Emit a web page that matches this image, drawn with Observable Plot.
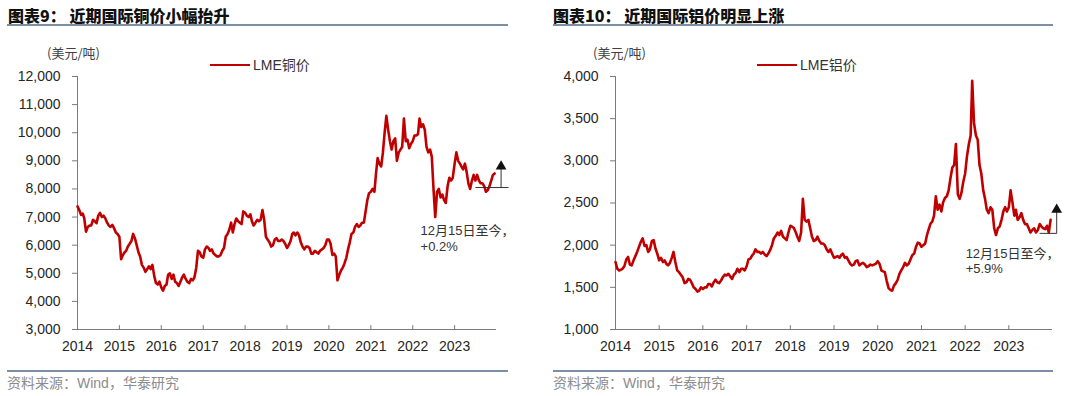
<!DOCTYPE html>
<html><head><meta charset="utf-8">
<script src="https://cdn.jsdelivr.net/npm/d3@7"></script>
<script src="https://cdn.jsdelivr.net/npm/@observablehq/plot@0.6"></script>
<style>
body{margin:0;background:#fff;}
#root{position:relative;width:1080px;height:396px;overflow:hidden;font-family:"Liberation Sans",Arial,sans-serif;}
.abs{position:absolute;white-space:nowrap;line-height:1;}
.title{font-family:"Noto Sans CJK SC";font-weight:900;font-size:16px;color:#111;}
.hr{position:absolute;height:2px;background:#7b8ea3;}
.unit{font-family:"Noto Sans CJK SC";font-size:13px;color:#404040;}
.leg{font-family:"Liberation Sans","Noto Sans CJK SC";font-size:14px;color:#333;display:flex;align-items:center;}
.leg i{display:inline-block;width:40px;height:2px;background:#c00000;margin-right:3px;}
.src{font-family:"Liberation Sans","Noto Sans CJK SC";font-size:14px;color:#8c8c8c;}
.panel{position:absolute;top:0;width:540px;height:360px;}
</style></head>
<body><div id="root"></div>
<script>
// ---------- data ----------
const titles = ["图表9： 近期国际铜价小幅抬升", "图表10： 近期国际铝价明显上涨"];
const unitLabel = "(美元/吨)";
const legendLabels = ["LME铜价", "LME铝价"];
const sourceText = "资料来源：Wind，华泰研究";
const noteLines1 = ["12月15日至今，", "+0.2%"];
const noteLines2 = ["12月15日至今，", "+5.9%"];
const yearTicks = [2014, 2015, 2016, 2017, 2018, 2019, 2020, 2021, 2022, 2023];
const copperTicks = [3000, 4000, 5000, 6000, 7000, 8000, 9000, 10000, 11000, 12000];
const aluminumTicks = [1000, 1500, 2000, 2500, 3000, 3500, 4000];
// semi-monthly observations (1st and 16th of each month), Jan 2014 – Dec 2023, USD/t
const copperPrices = [
 7380,7250,7080,7120,6950,6480,6650,6700,6700,6900,6850,6780,7050,7150,7000,7050,6950,6800,6700,6650,6720,6600,6450,6400,
 6300,5500,5650,5750,5800,5950,6050,6150,6400,6250,6000,5750,5600,5300,5200,5050,5150,5250,5150,5300,4900,4650,4600,4700,
 4500,4380,4550,4600,4950,5000,4800,4950,4700,4650,4550,4700,4850,4950,4800,4700,4650,4800,4750,4850,5200,5800,5750,5600,
 5550,5850,5950,5900,5800,5850,5700,5650,5600,5600,5650,5800,5900,6300,6400,6550,6800,6450,6750,6950,6850,6800,6750,7200,
 7150,7050,7000,7100,6850,6700,6800,6900,6850,6900,7250,6900,6300,6200,6100,5950,6000,6200,6250,6150,6150,6200,6150,6050,
 5900,6000,6150,6400,6450,6350,6450,6350,6100,5950,5850,5950,5950,5900,5700,5700,5800,5750,5700,5800,5850,5900,6000,6200,
 6200,6050,5650,5700,5600,4750,4950,5100,5200,5350,5550,5850,6100,6400,6450,6650,6750,6650,6700,6800,6800,7200,7600,7850,
 7900,8000,7900,8600,9100,8900,8800,9300,10000,10600,10100,9700,9400,9700,9800,9000,9300,9400,9500,10500,9700,9750,9450,9600,
 9700,9900,9900,9950,10500,10200,10300,10100,9500,9300,9400,9150,8000,7000,7900,8000,7700,7800,7600,7500,8100,8400,8300,8400,
 8900,9300,9000,8900,8800,8700,8900,8600,8200,8000,8300,8500,8300,8500,8300,8200,8200,8100,7900,7950,8100,8300,8500,8550
];
const aluminumPrices = [
 1800,1720,1700,1710,1720,1750,1830,1860,1770,1760,1820,1870,1920,1980,2040,2080,1990,2000,1920,1950,2050,2060,1960,1900,
 1820,1850,1800,1820,1780,1760,1790,1850,1920,1800,1700,1680,1650,1620,1550,1560,1600,1590,1550,1500,1480,1450,1460,1500,
 1480,1500,1500,1540,1540,1510,1560,1590,1560,1550,1580,1620,1650,1640,1660,1630,1600,1650,1670,1720,1680,1720,1720,1700,
 1750,1830,1840,1880,1900,1950,1920,1920,1900,1920,1890,1870,1900,1940,2000,2080,2110,2150,2120,2170,2100,2080,2060,2150,
 2230,2220,2200,2150,2100,2050,2150,2550,2300,2280,2300,2200,2100,2050,2060,2100,2050,2020,2020,2000,1950,1920,1950,1900,
 1850,1860,1870,1850,1880,1900,1850,1860,1820,1780,1760,1770,1810,1820,1760,1780,1790,1770,1740,1750,1770,1760,1770,1780,
 1810,1780,1700,1690,1680,1580,1490,1470,1460,1520,1550,1590,1660,1700,1740,1790,1760,1780,1830,1880,1900,1980,2030,2020,
 1980,2000,2020,2120,2180,2250,2280,2350,2580,2420,2480,2400,2510,2560,2580,2650,2800,2920,2950,3200,2600,2550,2620,2750,
 2850,3050,3200,3300,3950,3450,3300,3250,2950,2850,2650,2550,2420,2380,2450,2420,2200,2120,2200,2220,2300,2400,2450,2400,
 2450,2650,2500,2350,2420,2300,2330,2380,2300,2250,2250,2200,2150,2180,2200,2150,2180,2250,2220,2200,2190,2230,2150,2300
];
// annotation: base level, arrow top, positions (dates)
const copperNote = {base: 8050, top: 8800, baseFrom: "2023-07-01", baseTo: "2024-04-15", arrowAt: "2024-02-10", textAt: "2022-03-10", textY: [6500, 5930]};
const aluminumNote = {base: 2140, top: 2420, baseFrom: "2023-09-15", baseTo: "2024-02-05", arrowAt: "2024-02-05", textAt: "2022-01-05", textY: [1903, 1714]};

// ---------- build ----------
const dateOf = i => new Date(2014 + Math.floor(i / 24), Math.floor(i / 2) % 12, i % 2 ? 16 : 1);
const toRows = arr => arr.map((v, i) => ({date: dateOf(i), value: v}));
const yearDates = yearTicks.map(y => new Date(y, 0, 1));
const xDomain = [new Date(2014, 0, 1), new Date(2024, 0, 1)];
const RED = "#c00000", AX = "#7a7a7a";

function chart({rows, yDomain, yTicks, note, notes, marginLeft, marginRight}) {
  const upTick = {draw(ctx, l) { ctx.moveTo(0, 0); ctx.lineTo(0, -l); }};
  return Plot.plot({
    width: 540, height: 360,
    marginTop: 76, marginBottom: 31, marginLeft, marginRight,
    style: {fontFamily: "'Liberation Sans', 'Noto Sans CJK SC', sans-serif", fontSize: "14px", color: "#262626", background: "none", overflow: "visible"},
    x: {type: "utc", domain: xDomain, axis: null},
    y: {domain: yDomain, axis: null},
    marks: [
      Plot.axisY({ticks: yTicks, tickFormat: d3.format(","), tickSize: 5, tickPadding: 12, stroke: AX, fill: "#262626", fontSize: 14}),
      Plot.axisX({ticks: yearDates, tickFormat: d => String(d.getFullYear()), tickSize: 0, tickPadding: 12, fill: "#262626", fontSize: 14}),
      Plot.vector(yearDates, {x: d => d, y: () => yDomain[0], length: 4, anchor: "start", shape: upTick, stroke: AX, strokeWidth: 1}),
      Plot.ruleY([yDomain[0]], {stroke: AX, strokeWidth: 1}),
      Plot.ruleX([xDomain[0]], {stroke: AX, strokeWidth: 1}),
      Plot.line(rows, {x: "date", y: "value", stroke: RED, strokeWidth: 2.6, strokeLinejoin: "round"}),
      Plot.link([note], {x1: d => new Date(d.baseFrom), x2: d => new Date(d.baseTo), y1: "base", y2: "base", stroke: "#333", strokeWidth: 1}),
      Plot.link([note], {x1: d => new Date(d.arrowAt), x2: d => new Date(d.arrowAt), y1: "base", y2: "top", stroke: "#333", strokeWidth: 1}),
      Plot.dot([note], {x: d => new Date(d.arrowAt), y: "top", symbol: "triangle", r: 4, fill: "#111", stroke: "none"}),
      Plot.text(notes.map((t, i) => ({t, y: note.textY[i]})), {x: () => new Date(note.textAt), y: "y", text: "t", textAnchor: "start", fontSize: 13, fill: "#333"})
    ]
  });
}

const root = document.getElementById("root");
const panels = [
  {left: 0, title: titles[0], rows: toRows(copperPrices), yDomain: [3000, 12000], yTicks: copperTicks, note: copperNote, notes: noteLines1, marginLeft: 77, marginRight: 44,
   titleX: 8, hrX: 7, hrW: 501, unitX: 47, legX: 210, srcHr: 370, srcY: 376},
  {left: 540, title: titles[1], rows: toRows(aluminumPrices), yDomain: [1000, 4000], yTicks: aluminumTicks, note: aluminumNote, notes: noteLines2, marginLeft: 75, marginRight: 28,
   titleX: 13, hrX: 13, hrW: 500, unitX: 53, legX: 217, srcHr: 370, srcY: 376}
];
panels.forEach((p, k) => {
  const div = document.createElement("div");
  div.className = "panel"; div.style.left = p.left + "px";
  div.appendChild(chart(p));
  root.appendChild(div);
  const add = (cls, x, y, html, extra) => {
    const e = document.createElement("div");
    e.className = cls; e.style.left = (p.left + x) + "px"; e.style.top = y + "px";
    if (extra) Object.assign(e.style, extra);
    e.innerHTML = html; root.appendChild(e); return e;
  };
  add("abs title", p.titleX, 7, p.title);
  add("hr", p.hrX, 24, "", {width: p.hrW + "px"});
  add("abs unit", p.unitX, 46, unitLabel);
  add("abs leg", p.legX, 58, "<i></i>" + legendLabels[k]);
  add("hr", p.hrX, p.srcHr, "", {width: p.hrW + "px"});
  add("abs src", p.hrX, p.srcY, sourceText);
});
</script></body></html>
